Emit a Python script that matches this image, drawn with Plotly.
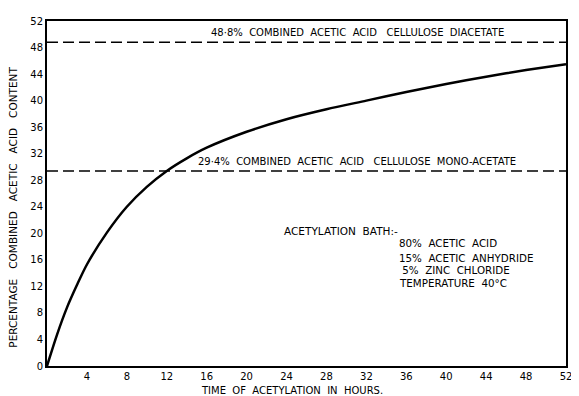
import plotly.graph_objects as go

hours = [0, 1, 2, 3, 4, 6, 8, 10, 12, 14, 16, 20, 24, 28, 32, 36, 40, 44, 48, 52]
acetic = [0, 4.7, 8.8, 12.2, 15.3, 20.1, 24.0, 27.0, 29.4, 31.3, 32.9, 35.3, 37.2, 38.7, 40.0, 41.3, 42.5, 43.6, 44.6, 45.5]

diacetate_level = 48.8
monoacetate_level = 29.4

x_ticks = [4, 8, 12, 16, 20, 24, 28, 32, 36, 40, 44, 48, 52]
y_ticks = [0, 4, 8, 12, 16, 20, 24, 28, 32, 36, 40, 44, 48, 52]
y_ticklabels = ["0", "4", "8", "12", "16", "20", "24", "28", "32", "36", "40", "44", "48", "52"]

label_di = "48·8%  COMBINED  ACETIC  ACID   CELLULOSE  DIACETATE"
label_mono = "29·4%  COMBINED  ACETIC  ACID   CELLULOSE  MONO-ACETATE"
bath_title = "ACETYLATION  BATH:-"
bath_lines = ["80%  ACETIC  ACID", "15%  ACETIC  ANHYDRIDE", " 5%  ZINC  CHLORIDE", "TEMPERATURE  40°C"]
x_title = "TIME  OF  ACETYLATION  IN  HOURS."
y_title = "PERCENTAGE   COMBINED   ACETIC   ACID   CONTENT"

FONT = "DejaVu Sans"

fig = go.Figure()
fig.add_trace(go.Scatter(x=hours, y=acetic, mode="lines",
                         line=dict(color="black", width=2.5, shape="spline", smoothing=0.8),
                         hoverinfo="skip", showlegend=False))
for lvl in (diacetate_level, monoacetate_level):
    fig.add_trace(go.Scatter(x=[0, 52], y=[lvl, lvl], mode="lines",
                             line=dict(color="black", width=1.5, dash="11px,5px"),
                             hoverinfo="skip", showlegend=False))

ann = []
ann.append(dict(x=31.1, y=50.2, text=label_di, showarrow=False, xanchor="center", yanchor="middle",
                font=dict(family=FONT, size=10, color="black")))
ann.append(dict(x=31.1, y=30.8, text=label_mono, showarrow=False, xanchor="center", yanchor="middle",
                font=dict(family=FONT, size=10, color="black")))
ann.append(dict(x=23.5, y=20.4, text=bath_title, showarrow=False, xanchor="left", yanchor="middle",
                font=dict(family=FONT, size=10.5, color="black")))
for t, yv in zip(bath_lines, [18.5, 16.3, 14.5, 12.5]):
    ann.append(dict(x=35.1, y=yv, text=t, showarrow=False, xanchor="left", yanchor="middle",
                    font=dict(family=FONT, size=10.3, color="black")))
ann.append(dict(x=0.472, y=-0.07, xref="paper", yref="paper", text=x_title, showarrow=False,
                xanchor="center", yanchor="middle", font=dict(family=FONT, size=10, color="black")))
ann.append(dict(x=-0.066, y=0.461, xref="paper", yref="paper", text=y_title, showarrow=False,
                textangle=-90, xanchor="center", yanchor="middle",
                font=dict(family=FONT, size=10.5, color="black")))

# page body has an 8px default margin, so the figure is sized to fit the window
fig.update_layout(
    width=571, height=388,
    margin=dict(l=39, r=7, t=9, b=30),
    paper_bgcolor="white", plot_bgcolor="white",
    annotations=ann,
    xaxis=dict(range=[0, 52], tickvals=x_ticks, ticks="", showgrid=False, zeroline=False,
               showline=True, linecolor="black", linewidth=2, mirror=True,
               tickfont=dict(family=FONT, size=10, color="black")),
    yaxis=dict(range=[0, 52], tickvals=y_ticks, ticktext=y_ticklabels, ticks="", showgrid=False,
               zeroline=False, showline=True, linecolor="black", linewidth=2, mirror=True,
               tickfont=dict(family=FONT, size=10, color="black")),
)

fig.write_html("out.html")
